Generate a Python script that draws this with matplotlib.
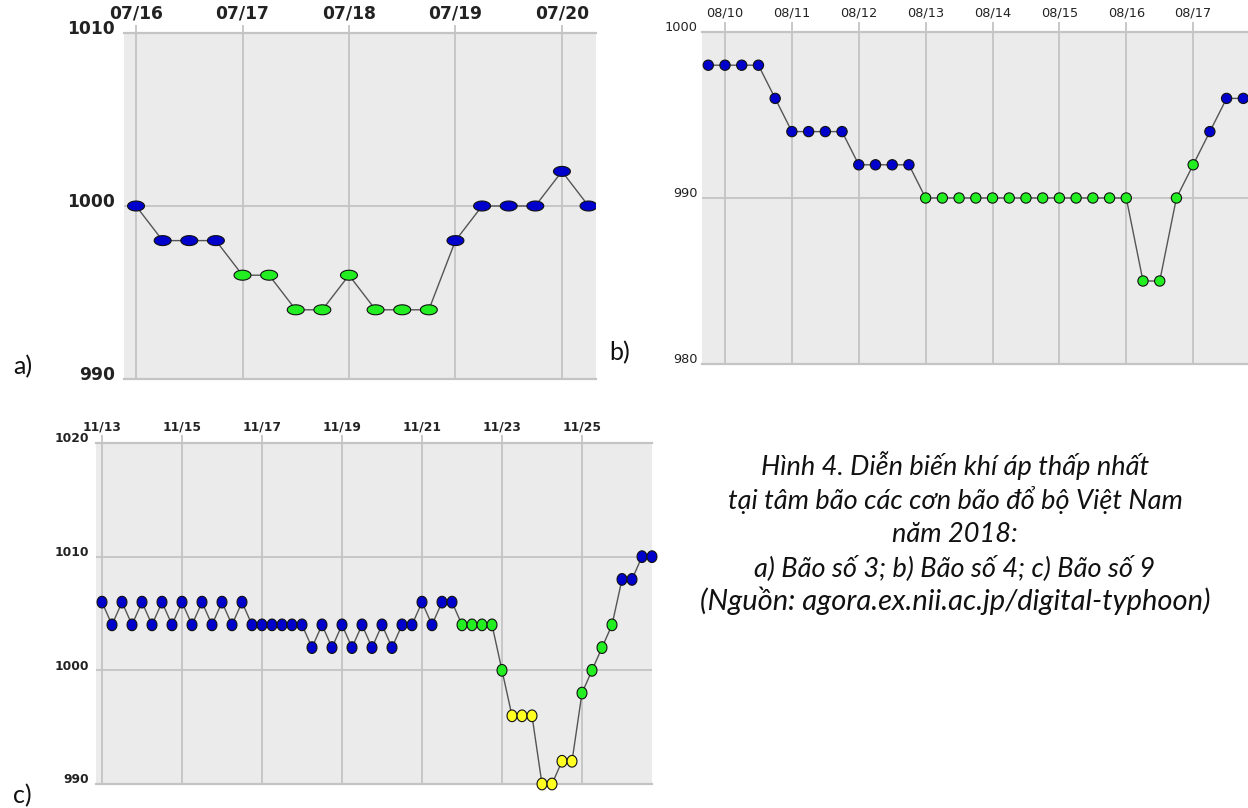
import numpy as np
import pandas as pd
import matplotlib
matplotlib.use("Agg")
import matplotlib.pyplot as plt
import matplotlib.dates as mdates
from matplotlib.transforms import ScaledTranslation
from matplotlib.font_manager import FontProperties

# ---------------- data ----------------
# a) Bão số 3 (6-hourly, from 2018-07-16 00Z)
a_start = "2018-07-16 00:00"
a_pres = [1000, 998, 998, 998, 996, 996, 994, 994, 996, 994, 994, 994,
          998, 1000, 1000, 1000, 1002, 1000]
a_class = list("BBBB" + "GGGGGGGG" + "BBBBBB")
a_yticks = [990, 1000, 1010]

# b) Bão số 4 (6-hourly, from 2018-08-09 18Z)
b_start = "2018-08-09 18:00"
b_pres = [998, 998, 998, 998, 996, 994, 994, 994, 994, 992, 992, 992, 992,
          990, 990, 990, 990, 990, 990, 990, 990, 990, 990, 990, 990, 990,
          985, 985, 990, 992, 994, 996, 996]
b_class = list("B" * 13 + "G" * 17 + "BBB")
b_yticks = [980, 990, 1000]

# c) Bão số 9 (6-hourly, from 2018-11-13 00Z)
c_start = "2018-11-13 00:00"
c_pres = [1006, 1004, 1006, 1004, 1006, 1004, 1006, 1004, 1006, 1004,
          1006, 1004, 1006, 1004, 1006, 1004, 1004, 1004, 1004, 1004,
          1004, 1002, 1004, 1002, 1004, 1002, 1004, 1002, 1004, 1002,
          1004, 1004, 1006, 1004, 1006, 1006,
          1004, 1004, 1004, 1004, 1000,
          996, 996, 996, 990, 990, 992, 992,
          998, 1000, 1002, 1004,
          1008, 1008, 1010, 1010]
c_class = list("B" * 36 + "G" * 5 + "Y" * 7 + "G" * 4 + "B" * 4)
c_yticks = [990, 1000, 1010, 1020]

class_colors = {"B": "#0000cc", "G": "#22ee22", "Y": "#ffff22"}

caption_lines = [
    "Hình 4. Diễn biến khí áp thấp nhất",
    "tại tâm bão các cơn bão đổ bộ Việt Nam",
    "năm 2018:",
    "a) Bão số 3; b) Bão số 4; c) Bão số 9",
    "(Nguồn: agora.ex.nii.ac.jp/digital-typhoon)",
]

# ---------------- figure ----------------
W, H = 1248, 808
fig = plt.figure(figsize=(W / 100, H / 100), dpi=100)
fig.patch.set_facecolor("white")


def px_axes(left, right, top, bottom):
    return fig.add_axes([left / W, 1 - bottom / H, (right - left) / W, (bottom - top) / H])


def ellipse_marker(sx, sy):
    t = np.linspace(0, 2 * np.pi, 60)
    return np.column_stack([sx * np.cos(t), sy * np.sin(t)])


GRID = "#c4c4c4"


def draw_panel(ax, start, pres, classes, yticks, xpad_days, day_interval,
               marker, msize, tick_font, clip, ylab_pad, xlab_pad, tick_len):
    t = pd.date_range(start, periods=len(pres), freq="6h")
    cols = [class_colors[k] for k in classes]
    ax.set_facecolor("#ebebeb")
    ax.plot(t, pres, color="#555555", lw=1.0, zorder=2, clip_on=clip)
    ax.scatter(t, pres, c=cols, marker=marker, s=msize ** 2,
               edgecolors="#111111", linewidths=0.8, zorder=3, clip_on=clip)
    first_day = pd.Timestamp(t[0].date())
    if t[0] != first_day:
        first_day = first_day + pd.Timedelta(days=1)
    x0 = first_day + pd.Timedelta(days=xpad_days[0])
    x1 = first_day + pd.Timedelta(days=xpad_days[1])
    ax.set_xlim(x0, x1)
    ax.set_ylim(yticks[0], yticks[-1])
    xt = pd.date_range(first_day, x1, freq=f"{day_interval}D")
    ax.set_xticks(xt)
    ax.xaxis.set_major_formatter(mdates.DateFormatter("%m/%d"))
    ax.xaxis.tick_top()
    ax.set_yticks(yticks)
    ax.grid(True, color=GRID, lw=1.3, zorder=1)
    ax.set_axisbelow(True)
    for s in ("left", "right"):
        ax.spines[s].set_visible(False)
    for s in ("top", "bottom"):
        ax.spines[s].set_color(GRID)
        ax.spines[s].set_linewidth(1.6)
    ax.tick_params(axis="x", length=tick_len, width=1.3, color=GRID,
                   pad=xlab_pad, labelcolor="#222222")
    ax.tick_params(axis="y", length=0, pad=ylab_pad, labelcolor="#222222")
    for lbl in ax.get_xticklabels() + ax.get_yticklabels():
        lbl.set_fontproperties(tick_font)
    off = ScaledTranslation(0, 4 / 72, fig.dpi_scale_trans)
    for lbl in ax.get_yticklabels():
        lbl.set_transform(lbl.get_transform() + off)


font_a = FontProperties(family="DejaVu Sans", weight="bold", size=12.3)
font_b = FontProperties(family="DejaVu Sans", size=9.3)
font_c = FontProperties(family="DejaVu Sans", weight="bold", size=8.8)

ax_a = px_axes(124, 596, 33, 379)
draw_panel(ax_a, a_start, a_pres, a_class, a_yticks, (-0.113, 4.32), 1,
           ellipse_marker(1.7, 1.0), 12.2, font_a, True, 6.5, 1.5, 6)

ax_b = px_axes(702, 1248, 32, 364)
draw_panel(ax_b, b_start, b_pres, b_class, b_yticks, (-0.344, 7.82), 1,
           "o", 7.4, font_b, True, 3, 2, 7)

ax_c = px_axes(96, 652, 443, 784)
draw_panel(ax_c, c_start, c_pres, c_class, c_yticks, (-0.15, 13.75), 2,
           ellipse_marker(0.85, 1.0), 8.4, font_c, False, 5, 0.5, 6)

# panel letters
lab_font = dict(family=["Lato", "DejaVu Sans"], fontsize=18, color="#111111")
fig.text(23 / W, 1 - 367 / H, "a)", ha="center", va="center", **lab_font)
fig.text(620 / W, 1 - 353 / H, "b)", ha="center", va="center", **lab_font)
fig.text(22 / W, 1 - 796 / H, "c)", ha="center", va="center", **lab_font)

# caption
cap_y = [466, 500, 534, 568, 601]
cap_size = [19.5, 19.5, 19.5, 19.5, 21.0]
for line, yy, fs in zip(caption_lines, cap_y, cap_size):
    fig.text(955 / W, 1 - yy / H, line, ha="center", va="center",
             family=["Lato", "DejaVu Sans"], style="italic", fontsize=fs,
             color="#111111")

fig.savefig("out.png", dpi=100, facecolor="white")
